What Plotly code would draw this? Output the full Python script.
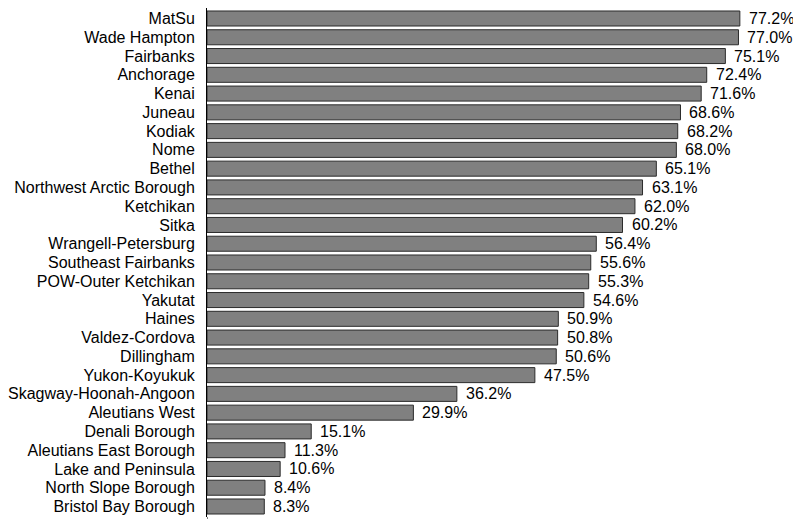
import plotly.graph_objects as go

regions = ["MatSu", "Wade Hampton", "Fairbanks", "Anchorage", "Kenai", "Juneau", "Kodiak",
           "Nome", "Bethel", "Northwest Arctic Borough", "Ketchikan", "Sitka",
           "Wrangell-Petersburg", "Southeast Fairbanks", "POW-Outer Ketchikan", "Yakutat",
           "Haines", "Valdez-Cordova", "Dillingham", "Yukon-Koyukuk", "Skagway-Hoonah-Angoon",
           "Aleutians West", "Denali Borough", "Aleutians East Borough", "Lake and Peninsula",
           "North Slope Borough", "Bristol Bay Borough"]
values = [77.2, 77.0, 75.1, 72.4, 71.6, 68.6, 68.2, 68.0, 65.1, 63.1, 62.0, 60.2,
          56.4, 55.6, 55.3, 54.6, 50.9, 50.8, 50.6, 47.5, 36.2, 29.9, 15.1, 11.3, 10.6,
          8.4, 8.3]

FONT = "Liberation Sans, Arial, sans-serif"

fig = go.Figure(go.Bar(
    x=values, y=regions, orientation="h",
    marker=dict(color="#808080", line=dict(color="#2b2b2b", width=1)),
    hoverinfo="skip",
))

for r, v in zip(regions, values):
    fig.add_annotation(x=v, y=r, text=f"{v:.1f}%", showarrow=False, xanchor="left",
                       xshift=7, font=dict(family=FONT, size=16, color="#000"))

# extend the axis line to the bottom edge, as in the reference
fig.add_shape(type="line", xref="x", yref="paper", x0=0, x1=0, y0=-0.01, y1=0,
              line=dict(color="#000", width=1))

fig.update_layout(
    width=793, height=519,
    margin=dict(l=207, r=0, t=8, b=2, pad=0),
    paper_bgcolor="white", plot_bgcolor="white",
    bargap=0.2,
    showlegend=False,
    font=dict(family=FONT, size=16, color="#000"),
    xaxis=dict(range=[0, 84.9], showgrid=False, zeroline=False, showticklabels=False,
               showline=False, ticks=""),
    yaxis=dict(autorange="reversed", showgrid=False, zeroline=False, showline=True,
               linecolor="#000", linewidth=1, ticks="outside", ticklen=8,
               tickmode="array", tickvals=regions, ticktext=regions,
               tickcolor="rgba(0,0,0,0)", tickfont=dict(family=FONT, size=16, color="#000")),
)

fig.write_html("out.html", config={"displayModeBar": False},
               post_script="document.body.style.margin='0';document.body.style.overflow='hidden';")
